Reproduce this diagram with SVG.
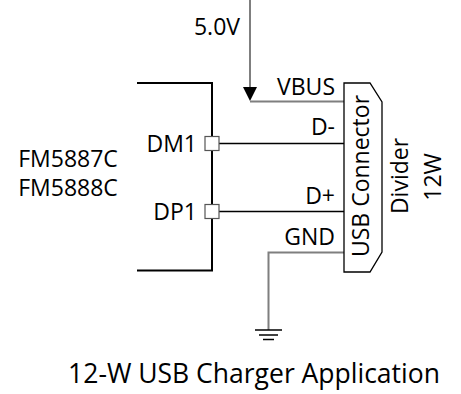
<svg xmlns="http://www.w3.org/2000/svg" width="461" height="394" viewBox="0 0 461 394">
<style>
text{font-family:"Open Sans","Liberation Sans",sans-serif;fill:#000;font-size:23px}
text.title{font-size:26.5px}
.g{stroke:#7f7f7f;stroke-width:2;fill:none}
.k{stroke:#000;stroke-width:1.3;fill:none}
.pin{fill:#fff;stroke:#555;stroke-width:1.2}
</style>
<rect width="461" height="394" fill="#fff"/>
<g id="connectors">
<line class="g" x1="250" y1="0" x2="250" y2="90"/>
<polygon points="243,87 257,87 250,101" fill="#000"/>
<polyline class="g" points="250,101.5 344,101.5"/>
<line class="k" x1="219" y1="143.5" x2="344" y2="143.5"/>
<line class="k" x1="219" y1="211.5" x2="344" y2="211.5"/>
<polyline class="g" points="344,252.5 268.5,252.5 268.5,330"/>
</g>
<g id="supply">
<text x="240" y="35" text-anchor="end">5.0V</text>
</g>
<g id="ic">
<path d="M137,83 H212 V270.5 H137" fill="none" stroke="#000" stroke-width="2"/>
<text x="68" y="167" text-anchor="middle">FM5887C</text>
<text x="68" y="196" text-anchor="middle">FM5888C</text>
</g>
<g id="pin-dm1">
<rect class="pin" x="205" y="136.5" width="14" height="14"/>
<text x="197" y="152" text-anchor="end">DM1</text>
</g>
<g id="pin-dp1">
<rect class="pin" x="205" y="204.5" width="14" height="14"/>
<text x="197" y="219.5" text-anchor="end">DP1</text>
</g>
<g id="usb-connector">
<path d="M344,83 H370 L382,102 V252 L370,272 H344 Z" fill="#fff" stroke="#000" stroke-width="1.3"/>
<text x="335" y="94.5" text-anchor="end">VBUS</text>
<text x="335" y="135" text-anchor="end">D-</text>
<text x="335" y="203.5" text-anchor="end">D+</text>
<text x="335" y="245" text-anchor="end">GND</text>
<text transform="translate(369,176) rotate(-90)" text-anchor="middle">USB Connector</text>
</g>
<g id="divider">
<text transform="translate(408,176) rotate(-90)" text-anchor="middle">Divider</text>
<text transform="translate(441,177) rotate(-90)" text-anchor="middle">12W</text>
</g>
<g id="ground">
<line x1="255" y1="330" x2="282" y2="330" stroke="#000" stroke-width="1.5"/>
<line x1="259" y1="335" x2="278" y2="335" stroke="#000" stroke-width="1.5"/>
<line x1="263" y1="339.5" x2="274" y2="339.5" stroke="#000" stroke-width="1.5"/>
</g>
<g id="title">
<text class="title" x="254" y="383" text-anchor="middle">12-W USB Charger Application</text>
</g>
</svg>
